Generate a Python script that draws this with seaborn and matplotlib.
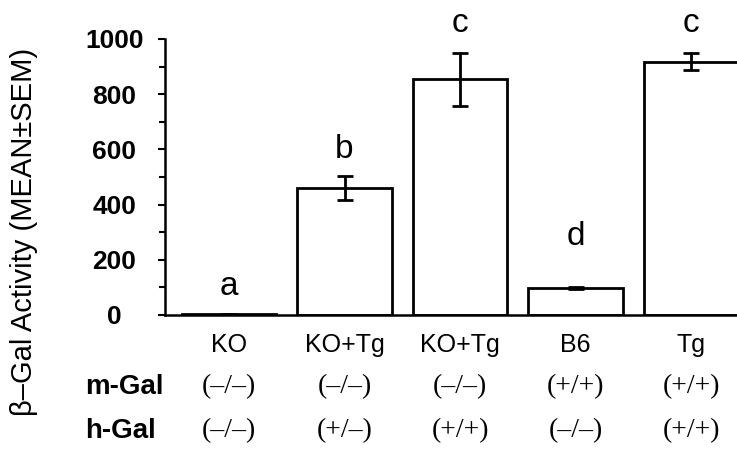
import numpy as np
import pandas as pd
import matplotlib
matplotlib.use("Agg")
import matplotlib.pyplot as plt
import matplotlib.transforms as mtransforms
from matplotlib.ticker import MultipleLocator
import seaborn as sns

# ---- data ----
groups = ["g1", "g2", "g3", "g4", "g5"]
group_labels = ["KO", "KO+Tg", "KO+Tg", "B6", "Tg"]
means = [3, 460, 855, 98, 917]
sems = [2, 43, 96, 3, 31]
letters = ["a", "b", "c", "d", "c"]
letter_y = [72, 569, 1025, 254, 1025]
m_gal = ["(–/–)", "(–/–)", "(–/–)", "(+/+)", "(+/+)"]
h_gal = ["(–/–)", "(+/–)", "(+/+)", "(–/–)", "(+/+)"]
yticks = [0, 200, 400, 600, 800, 1000]

df = pd.DataFrame({"group": groups, "activity": means})

sns.set_theme(style="white")
plt.rcParams["font.family"] = ["Liberation Sans", "DejaVu Sans"]
plt.rcParams["text.color"] = "black"
plt.rcParams["axes.labelcolor"] = "black"
plt.rcParams["xtick.color"] = "black"
plt.rcParams["ytick.color"] = "black"

fig = plt.figure(figsize=(7.37, 4.51), dpi=100)
ax = fig.add_axes([165 / 737, 1 - 315 / 451, (737 - 165) / 737, 276 / 451])

sns.barplot(data=df, x="group", y="activity", color="white", edgecolor="black",
            linewidth=2.0, width=0.815, errorbar=None, ax=ax, saturation=1)
for p in ax.patches:
    p.set_facecolor("white")

ax.errorbar(x=np.arange(len(groups)), y=means, yerr=sems, fmt="none",
            ecolor="black", elinewidth=2.0, capsize=6, capthick=2.0, zorder=5)

ax.set_xlim(-0.554, 4.398)
ax.set_ylim(0, 1000)
ax.set_yticks(yticks)
ax.yaxis.set_minor_locator(MultipleLocator(100))
ax.set_yticklabels([str(t) for t in yticks], fontsize=19, fontweight="bold",
                   color="black")
for lab in ax.get_yticklabels():
    lab.set_horizontalalignment("center")
ax.tick_params(axis="y", which="major", left=True, length=5, width=1.5,
               color="black", pad=31.5)
ax.tick_params(axis="y", which="minor", left=True, length=4, width=1.5,
               color="black")
ax.set_xticks(range(len(groups)))
ax.set_xticklabels(group_labels, fontsize=18, color="black")
ax.tick_params(axis="x", length=0, pad=13)
ax.set_xlabel("")

ax.set_ylabel("β–Gal Activity (MEAN±SEM)", fontsize=21, color="black")
ax.yaxis.set_label_coords(-0.222, 0.30)

sns.despine(ax=ax)
for s in ("left", "bottom"):
    ax.spines[s].set_linewidth(1.8)
    ax.spines[s].set_color("black")

for i, (l, y) in enumerate(zip(letters, letter_y)):
    ax.text(i, y, l, ha="center", va="baseline", fontsize=24, clip_on=False,
            color="black")

trans = mtransforms.blended_transform_factory(ax.transData, ax.transAxes)
for i in range(len(groups)):
    ax.text(i, -0.261, m_gal[i], transform=trans, ha="center", va="center",
            fontsize=20, family=["Liberation Serif", "DejaVu Serif"],
            color="black")
    ax.text(i, -0.42, h_gal[i], transform=trans, ha="center", va="center",
            fontsize=20, family=["Liberation Serif", "DejaVu Serif"],
            color="black")

fig.text(85 / 737, 1 - 387 / 451, "m-Gal", ha="left", va="center",
         fontsize=20, fontweight="bold", color="black")
fig.text(85 / 737, 1 - 431 / 451, "h-Gal", ha="left", va="center",
         fontsize=20, fontweight="bold", color="black")

fig.savefig("out.png", dpi=100, facecolor="white")
